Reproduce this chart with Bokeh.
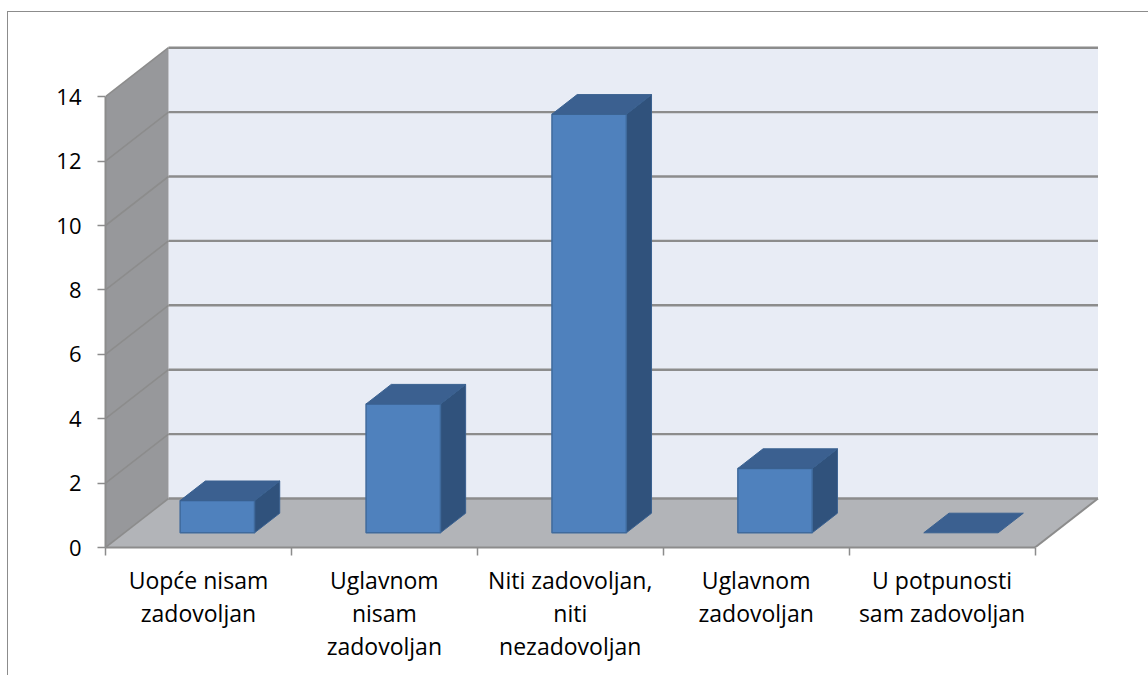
from bokeh.embed import file_html
from bokeh.resources import INLINE
from bokeh.plotting import figure
from bokeh.models import FixedTicker, Range1d

categories = ["Uopće nisam\nzadovoljan", "Uglavnom\nnisam\nzadovoljan", "Niti zadovoljan,\nniti\nnezadovoljan",
              "Uglavnom\nzadovoljan", "U potpunosti\nsam zadovoljan"]
values = [1, 4, 13, 2, 0]
y_ticks = [0, 2, 4, 6, 8, 10, 12, 14]

# oblique projection of depth z (0 front .. 1 back), in axis units
DX = 63 / 185.9
DY = 49 / 32.2
GAP = 0.3            # side gap of each bar, share of the category
BAR_W = 0.4
Z0, Z1 = 0.3, 0.7    # bar depth span
N = len(values)
YMAX = y_ticks[-1]


def px(x, z):
    return x + z * DX


def py(y, z):
    return y + z * DY


p = figure(width=1148, height=675, output_backend="svg", toolbar_location=None,
           x_range=Range1d(0, 1043 / 185.9), y_range=Range1d(0, 517 / 32.2),
           min_border_left=105, min_border_right=0, min_border_top=30, min_border_bottom=128,
           background_fill_color="white", border_fill_color="white", outline_line_color=None)
p.grid.visible = False

GREY = "#8c8c8c"

# walls
p.patch([px(0, 1), px(N, 1), px(N, 1), px(0, 1)], [py(0, 1), py(0, 1), py(YMAX, 1), py(YMAX, 1)],
        fill_color="#e8ecf5", line_color=None)
p.patch([px(0, 0), px(0, 1), px(0, 1), px(0, 0)], [py(0, 0), py(0, 1), py(YMAX, 1), py(YMAX, 0)],
        fill_color="#97989b", line_color=None)
p.patch([px(0, 0), px(N, 0), px(N, 1), px(0, 1)], [py(0, 0), py(0, 0), py(0, 1), py(0, 1)],
        fill_color="#b2b4b8", line_color=None)

# gridlines
for t in y_ticks:
    p.line([px(0, 0), px(0, 1)], [py(t, 0), py(t, 1)], line_color=GREY, line_width=1.6)
    p.line([px(0, 1), px(N, 1)], [py(t, 1), py(t, 1)], line_color=GREY, line_width=2.4)
p.line([px(N, 0), px(N, 1)], [py(0, 0), py(0, 1)], line_color=GREY, line_width=2)

# bars
fx0 = [i + GAP + Z0 * DX for i in range(N)]
fx1 = [i + GAP + BAR_W + Z0 * DX for i in range(N)]
y0 = Z0 * DY
d = (Z1 - Z0)
for a, b, v in zip(fx0, fx1, values):
    top = v + y0
    if v > 0:
        p.patch([b, b + d * DX, b + d * DX, b], [y0, y0 + d * DY, top + d * DY, top],
                fill_color="#30527c", line_color="#3a6190", line_width=1)
        p.patch([a, b, b, a], [y0, y0, top, top], fill_color="#4f81bd", line_color="#3f6a9c", line_width=1.5)
    p.patch([a, b, b + d * DX, a + d * DX], [top, top, top + d * DY, top + d * DY],
            fill_color="#3b6090", line_color="#3a6190", line_width=1)

# axes
yax = p.yaxis[0]
yax.ticker = FixedTicker(ticks=y_ticks)
yax.bounds = (0, YMAX)
yax.axis_line_color = GREY
yax.axis_line_width = 2
yax.major_tick_line_color = GREY
yax.major_tick_line_width = 1.5
yax.major_tick_in = 0
yax.major_tick_out = 8
yax.minor_tick_line_color = None
yax.major_label_standoff = 16
yax.major_label_text_font = "Open Sans"
yax.major_label_text_font_size = "22px"
yax.major_label_text_color = "#000000"

xax = p.xaxis[0]
label_pos = [i + 0.5 for i in range(N)]
xax.ticker = FixedTicker(ticks=label_pos, minor_ticks=list(range(N + 1)))
xax.major_label_overrides = dict(zip(label_pos, categories))
xax.bounds = (0, N)
xax.axis_line_color = GREY
xax.axis_line_width = 2
xax.major_tick_line_color = None
xax.major_tick_in = 0
xax.major_tick_out = 0
xax.minor_tick_line_color = GREY
xax.minor_tick_line_width = 1.5
xax.minor_tick_in = 0
xax.minor_tick_out = 8
xax.major_label_standoff = 8
xax.major_label_text_font = "Open Sans"
xax.major_label_text_font_size = "23px"
xax.major_label_text_line_height = 1.04
xax.major_label_text_color = "#000000"
xax.major_label_orientation = "horizontal"

# chart-area border, open on the right and bottom as in the source picture
p.stylesheets = [":host::after {content: ''; position: absolute; left: 7px; top: 11px; right: -10px; bottom: -10px;"
                 " border-left: 1.5px solid #8c8c8c; border-top: 1.5px solid #8c8c8c; pointer-events: none; z-index: 5;}"]

open("out.html", "w").write(file_html(p, INLINE))
